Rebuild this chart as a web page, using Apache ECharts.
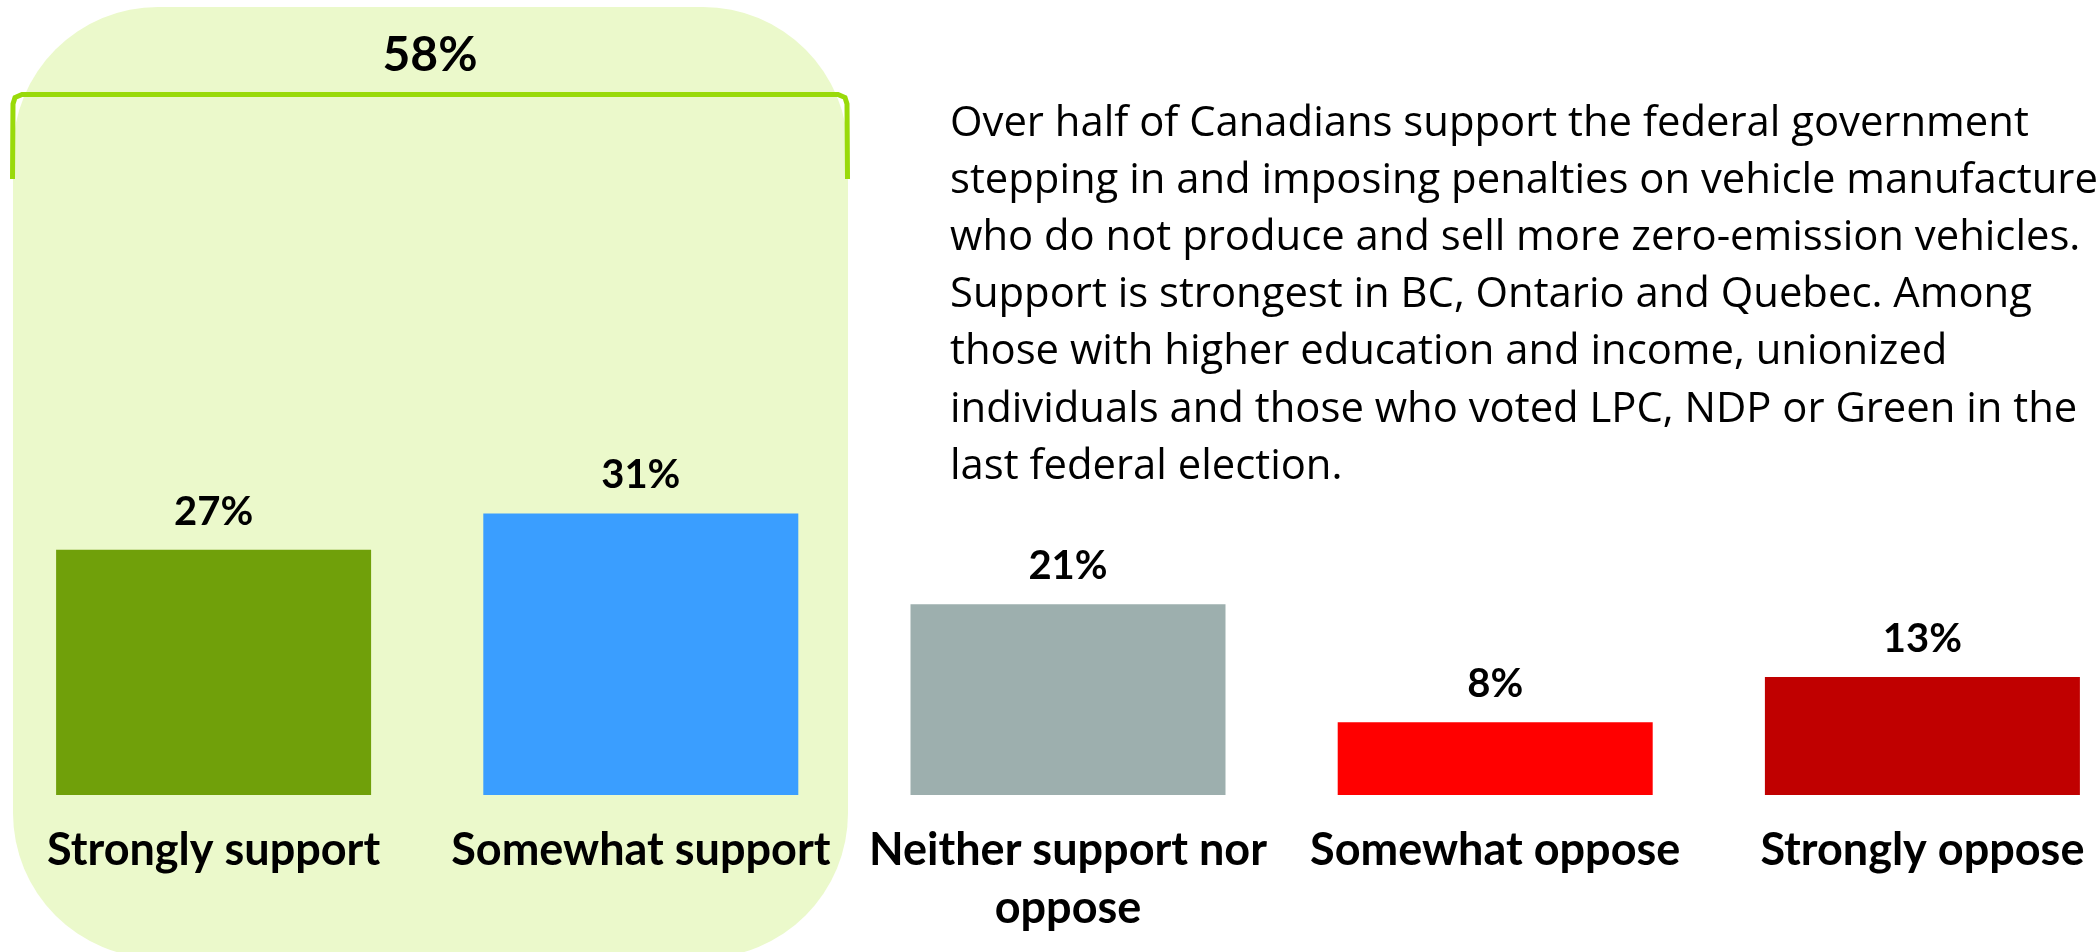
<!DOCTYPE html>
<html>
<head>
<meta charset="utf-8">
<script src="https://cdn.jsdelivr.net/npm/echarts@6/dist/echarts.min.js"></script>
<style>
  html, body { margin: 0; padding: 0; background: #fff; overflow: hidden; }
  #chart { width: 2136px; height: 952px; }
</style>
</head>
<body>
<div id="chart"></div>
<script>
// support / oppose for penalties on vehicle makers (ZEV mandate)
const categories = [
  'Strongly support',
  'Somewhat support',
  'Neither support nor\noppose',
  'Somewhat oppose',
  'Strongly oppose',
]
const values = [27, 31, 21, 8, 13]
const barColors = ['#70A00A', '#3A9EFF', '#9DAFAE', '#FF0000', '#C00000']

const summaryLines = [
  'Over half of Canadians support the federal government',
  'stepping in and imposing penalties on vehicle manufacturers',
  'who do not produce and sell more zero-emission vehicles.',
  'Support is strongest in BC, Ontario and Quebec. Among',
  'those with higher education and income, unionized',
  'individuals and those who voted LPC, NDP or Green in the',
  'last federal election.',
]

const supportTotal = values[0] + values[1]
const FONT = 'Lato, "Open Sans", sans-serif'
const BODY_FONT = '"Open Sans", Lato, sans-serif'

const chart = echarts.init(document.getElementById('chart'))

chart.setOption({
  animation: false,
  backgroundColor: '#fff',
  grid: { left: 0, right: 0, top: 250, bottom: 157 },
  xAxis: {
    type: 'category',
    data: categories,
    axisLine: { show: false },
    axisTick: { show: false },
    axisLabel: {
      interval: 0,
      margin: 26,
      color: '#000',
      fontFamily: FONT,
      fontWeight: 'bold',
      fontSize: 45,
      lineHeight: 58,
    },
  },
  yAxis: { type: 'value', min: 0, max: 60, show: false, splitLine: { show: false } },
  graphic: [
    {
      type: 'rect',
      z: -10,
      silent: true,
      shape: { x: 13, y: 7, width: 835, height: 951, r: 145 },
      style: { fill: '#EBF9CB' },
    },
    {
      type: 'polyline',
      z: 5,
      silent: true,
      shape: {
        points: [
          [12.5, 179], [13, 104], [15, 97.5], [22, 94.5],
          [838, 94.5], [845, 97.5], [847, 104], [847.5, 179],
        ],
      },
      style: { fill: 'none', stroke: '#99DA0A', lineWidth: 5 },
    },
    {
      type: 'text',
      z: 6,
      x: 430,
      y: 56,
      style: {
        text: supportTotal + '%',
        fill: '#000',
        font: 'bold 48px ' + FONT,
        align: 'center',
        verticalAlign: 'middle',
      },
    },
    {
      type: 'text',
      z: 6,
      x: 950,
      y: 95,
      style: {
        text: summaryLines.join('\n'),
        fill: '#000',
        font: '41.8px ' + BODY_FONT,
        lineHeight: 57.2,
        align: 'left',
        verticalAlign: 'top',
      },
    },
  ],
  series: [
    {
      type: 'bar',
      barWidth: 315,
      data: values.map((v, i) => ({ value: v, itemStyle: { color: barColors[i] } })),
      label: {
        show: true,
        position: 'top',
        distance: 18,
        formatter: '{c}%',
        color: '#000',
        fontFamily: FONT,
        fontWeight: 'bold',
        fontSize: 40,
        lineHeight: 40,
      },
    },
  ],
})
</script>
</body>
</html>
